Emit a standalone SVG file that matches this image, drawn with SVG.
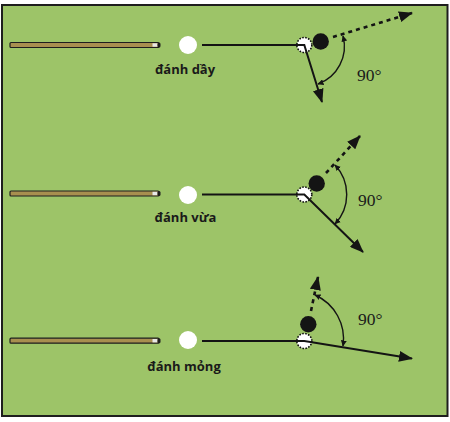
<svg xmlns="http://www.w3.org/2000/svg" width="450" height="422" viewBox="0 0 450 422">
<defs>
<style>
.cue{fill:#a88f4f;stroke:#1e1e1e;stroke-width:1.2}
.tip{fill:#e8e8e8}
.cueball{fill:#ffffff}
.ghost{fill:#ffffff;stroke:#111;stroke-width:1.6;stroke-dasharray:1.6 1.4}
.obj{fill:#141414}
.path{fill:none;stroke:#141414;stroke-width:2}
.dot{fill:none;stroke:#141414;stroke-width:2.6;stroke-dasharray:4 4}
.arc{fill:none;stroke:#141414;stroke-width:1.4}
.lbl{font-family:"Open Sans","Noto Sans","Liberation Sans",sans-serif;font-weight:bold;font-size:13px;fill:#1a1a1a;text-anchor:middle}
.deg{font-family:"Liberation Serif","DejaVu Serif",serif;font-size:17.5px;fill:#1a1a1a}
</style>
<marker id="ah" viewBox="0 0 14 11" refX="13" refY="5.5" markerWidth="14" markerHeight="11" markerUnits="userSpaceOnUse" orient="auto">
<path d="M0,0 L14,5.5 L0,11 Z" fill="#141414"/>
</marker>
<marker id="sa" viewBox="0 0 6 6" refX="5.5" refY="3" markerWidth="6" markerHeight="6" markerUnits="userSpaceOnUse" orient="auto-start-reverse">
<path d="M0,0 L6,3 L0,6 Z" fill="#141414"/>
</marker>
</defs>
<rect x="0" y="0" width="450" height="422" fill="#ffffff"/>
<rect x="2" y="5" width="445.5" height="411" fill="#9dc468" stroke="#1e1e1e" stroke-width="2"/>

<g id="row1">
<g id="cue1"><rect class="cue" x="10" y="42.5" width="149" height="5" rx="1"/><rect class="tip" x="152.5" y="43.3" width="5" height="3.4"/><rect x="157.5" y="42.5" width="3" height="5" rx="1.5" fill="#1e1e1e"/></g>
<circle id="cueball1" class="cueball" cx="188" cy="45" r="9"/>
<text id="label1" class="lbl" x="185" y="74">đánh dầy</text>
<circle id="obj1" class="obj" cx="320.7" cy="41.5" r="8.2"/>
<circle id="ghost1" class="ghost" cx="304.3" cy="45" r="7.5"/>
<text id="deg1" class="deg" x="357" y="81">90°</text>
</g>

<g id="row2">
<g id="cue2"><rect class="cue" x="10" y="191" width="149" height="5" rx="1"/><rect class="tip" x="152.5" y="191.8" width="5" height="3.4"/><rect x="157.5" y="191" width="3" height="5" rx="1.5" fill="#1e1e1e"/></g>
<circle id="cueball2" class="cueball" cx="188" cy="195" r="9"/>
<text id="label2" class="lbl" x="185.5" y="222">đánh vừa</text>
<circle id="obj2" class="obj" cx="316.7" cy="183.5" r="8.2"/>
<circle id="ghost2" class="ghost" cx="304.3" cy="194.5" r="7.5"/>
<text id="deg2" class="deg" x="358" y="206">90°</text>
</g>

<g id="row3">
<g id="cue3"><rect class="cue" x="10" y="338.2" width="149" height="5" rx="1"/><rect class="tip" x="152.5" y="339" width="5" height="3.4"/><rect x="157.5" y="338.2" width="3" height="5" rx="1.5" fill="#1e1e1e"/></g>
<circle id="cueball3" class="cueball" cx="188" cy="340" r="9"/>
<text id="label3" class="lbl" x="184" y="371">đánh mỏng</text>
<circle id="obj3" class="obj" cx="308.3" cy="324.3" r="8.2"/>
<circle id="ghost3" class="ghost" cx="304.3" cy="341" r="7.5"/>
<text id="deg3" class="deg" x="358" y="325">90°</text>
</g>

<g id="connectors">
<path class="path" d="M202,45 H304.3 L322,102" marker-end="url(#ah)"/>
<path class="dot" d="M333,37 L412,13" marker-end="url(#ah)"/>
<path class="arc" d="M343,36 A40,40 0 0 1 318,84" marker-start="url(#sa)" marker-end="url(#sa)"/>

<path class="path" d="M202,194.5 H304.3 L363,252" marker-end="url(#ah)"/>
<path class="dot" d="M326,173 L360,136" marker-end="url(#ah)"/>
<path class="arc" d="M335,165 A43,43 0 0 1 335,224" marker-start="url(#sa)" marker-end="url(#sa)"/>

<path class="path" d="M202,341 H304.3 L412,358.5" marker-end="url(#ah)"/>
<path class="dot" d="M311,311 L318,277" marker-end="url(#ah)"/>
<path class="arc" d="M315,295 A48,48 0 0 1 343,346" marker-start="url(#sa)" marker-end="url(#sa)"/>
</g>
</svg>
